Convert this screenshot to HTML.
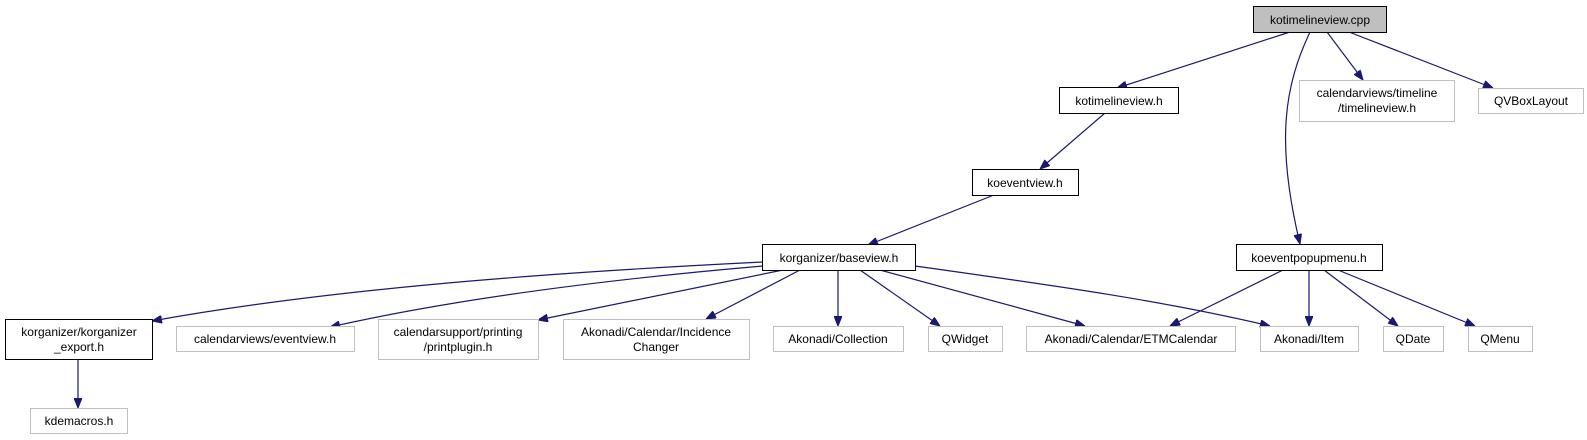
<!DOCTYPE html>
<html><head><meta charset="utf-8"><style>
html,body{margin:0;padding:0;background:#fff;}
svg{display:block;}
text{font-family:"Liberation Sans",Arial,sans-serif;font-size:12px;fill:#000;}
</style></head><body>
<svg width="1587" height="440" viewBox="0 0 1587 440" xmlns="http://www.w3.org/2000/svg">
<defs>
<marker id="a" viewBox="0 0 10 8" refX="10" refY="4" markerWidth="10" markerHeight="8" markerUnits="userSpaceOnUse" orient="auto">
<path d="M0,0 L10,4 L0,8 z" fill="#191970" stroke="#191970"/>
</marker>
</defs>
<g fill="none" stroke="#191970" stroke-width="1.2" marker-end="url(#a)">
<path d="M1290,32 L1117,88"/>
<path d="M1310,32 C1285,85 1275,140 1300,244"/>
<path d="M1327,32 L1363,80"/>
<path d="M1349,32 L1493,88"/>
<path d="M1105,113 L1040,169"/>
<path d="M994,195 L868,245"/>
<path d="M763,262 C600,270 350,285 152,321"/>
<path d="M763,266 C600,280 450,300 330,327"/>
<path d="M783,270 L538,320"/>
<path d="M800,270 L706,319"/>
<path d="M838,270 L838,326"/>
<path d="M860,270 L940,326"/>
<path d="M880,270 L1085,326"/>
<path d="M915,266 C1050,285 1160,300 1270,326"/>
<path d="M1283,270 L1170,326"/>
<path d="M1309,270 L1309,326"/>
<path d="M1324,270 L1398,326"/>
<path d="M1338,270 L1475,326"/>
<path d="M78,359 L78,408"/>
</g>
<g stroke-width="1">
<rect x="1253.5" y="6.5" width="133" height="26" fill="#bfbfbf" stroke="#000"/>
<rect x="1059.5" y="87.5" width="119" height="26" fill="#fff" stroke="#000"/>
<rect x="1299.5" y="80.5" width="155" height="41" fill="#fff" stroke="#bfbfbf"/>
<rect x="1478.5" y="88.5" width="105" height="25" fill="#fff" stroke="#bfbfbf"/>
<rect x="972.5" y="169.5" width="106" height="26" fill="#fff" stroke="#000"/>
<rect x="762.5" y="244.5" width="153" height="26" fill="#fff" stroke="#000"/>
<rect x="1236.5" y="244.5" width="146" height="26" fill="#fff" stroke="#000"/>
<rect x="5.5" y="319.5" width="147" height="40" fill="#fff" stroke="#000"/>
<rect x="176.5" y="326.5" width="178" height="25" fill="#fff" stroke="#bfbfbf"/>
<rect x="378.5" y="319.5" width="160" height="40" fill="#fff" stroke="#bfbfbf"/>
<rect x="563.5" y="319.5" width="186" height="40" fill="#fff" stroke="#bfbfbf"/>
<rect x="773.5" y="326.5" width="130" height="25" fill="#fff" stroke="#bfbfbf"/>
<rect x="928.5" y="326.5" width="74" height="25" fill="#fff" stroke="#bfbfbf"/>
<rect x="1026.5" y="326.5" width="209" height="25" fill="#fff" stroke="#bfbfbf"/>
<rect x="1260.5" y="326.5" width="98" height="25" fill="#fff" stroke="#bfbfbf"/>
<rect x="1383.5" y="326.5" width="60" height="25" fill="#fff" stroke="#bfbfbf"/>
<rect x="1468.5" y="326.5" width="64" height="25" fill="#fff" stroke="#bfbfbf"/>
<rect x="30.5" y="408.5" width="97" height="25" fill="#fff" stroke="#bfbfbf"/>
</g>
<g text-anchor="middle">
<text x="1320" y="24">kotimelineview.cpp</text>
<text x="1119" y="105">kotimelineview.h</text>
<text x="1377" y="97">calendarviews/timeline</text>
<text x="1377" y="112">/timelineview.h</text>
<text x="1531" y="105">QVBoxLayout</text>
<text x="1025" y="187">koeventview.h</text>
<text x="839" y="262">korganizer/baseview.h</text>
<text x="1309" y="262">koeventpopupmenu.h</text>
<text x="79" y="336">korganizer/korganizer</text>
<text x="79" y="351">_export.h</text>
<text x="265" y="343">calendarviews/eventview.h</text>
<text x="458" y="336">calendarsupport/printing</text>
<text x="458" y="351">/printplugin.h</text>
<text x="656" y="336">Akonadi/Calendar/Incidence</text>
<text x="656" y="351">Changer</text>
<text x="838" y="343">Akonadi/Collection</text>
<text x="965" y="343">QWidget</text>
<text x="1131" y="343">Akonadi/Calendar/ETMCalendar</text>
<text x="1309" y="343">Akonadi/Item</text>
<text x="1413" y="343">QDate</text>
<text x="1500" y="343">QMenu</text>
<text x="79" y="425">kdemacros.h</text>
</g>
</svg>
</body></html>
